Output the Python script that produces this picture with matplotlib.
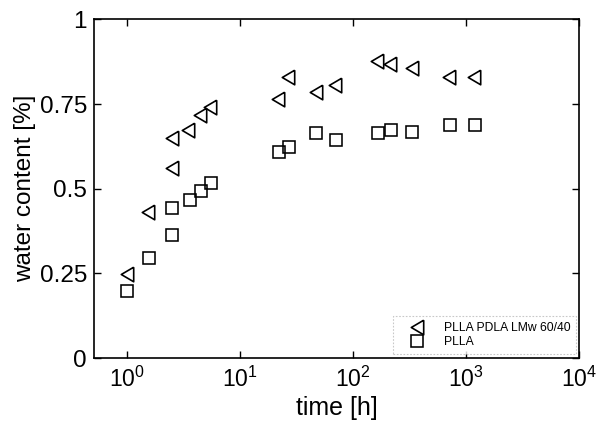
import matplotlib
matplotlib.use("Agg")
import matplotlib.pyplot as plt

plt.rcParams['font.family'] = ['Liberation Sans', 'DejaVu Sans']
plt.rcParams['mathtext.fontset'] = 'custom'
plt.rcParams['mathtext.rm'] = 'Liberation Sans'
plt.rcParams['mathtext.it'] = 'Liberation Sans'

t_blend = [1.0, 1.53, 2.47, 2.47, 3.47, 4.4, 5.4, 21.7, 26.6, 46.8, 68.9, 161, 211, 329, 708, 1178]
w_blend = [0.248, 0.432, 0.560, 0.651, 0.674, 0.718, 0.741, 0.764, 0.829, 0.786, 0.807, 0.878, 0.868, 0.856, 0.829, 0.829]

t_plla = [1.0, 1.57, 2.47, 2.47, 3.59, 4.47, 5.47, 22, 27.2, 46.8, 69.8, 166, 214, 333, 718, 1194]
w_plla = [0.199, 0.296, 0.363, 0.444, 0.467, 0.493, 0.516, 0.609, 0.624, 0.664, 0.644, 0.664, 0.675, 0.669, 0.688, 0.688]

labels = ['PLLA PDLA LMw 60/40', 'PLLA']
yticks = [0, 0.25, 0.5, 0.75, 1]
yticklabels = ['0', '0.25', '0.5', '0.75', '1']
xticks = [1, 10, 100, 1000, 10000]

tri = [(0.85, 1.0), (-0.85, 0.0), (0.85, -1.0), (0.85, 1.0)]

fig = plt.figure(figsize=(5.99, 4.30), dpi=100)
ax = fig.add_axes([0.157, 0.1674, 0.810, 0.7873])

ax.plot(t_blend, w_blend, linestyle='none', marker=tri, markersize=10.5,
        markerfacecolor='none', markeredgecolor='black', markeredgewidth=1.2, label=labels[0])
ax.plot(t_plla, w_plla, linestyle='none', marker='s', markersize=8.0,
        markerfacecolor='none', markeredgecolor='black', markeredgewidth=1.15, label=labels[1])

ax.set_xscale('log')
ax.set_xlim(0.507, 1e4)
ax.set_ylim(0, 1)
ax.set_yticks(yticks)
ax.set_yticklabels(yticklabels)
ax.set_xticks(xticks)
ax.minorticks_off()
ax.tick_params(axis='both', which='major', direction='in', top=True, right=True,
               length=5, width=1)
ax.tick_params(axis='y', labelsize=17.5, pad=5)
ax.tick_params(axis='x', labelsize=16.5, pad=6)
for s in ax.spines.values():
    s.set_linewidth(1.2)

ax.set_xlabel('time [h]', fontsize=18, labelpad=3)
ax.set_ylabel('water content [%]', fontsize=17.5, labelpad=3)

leg = ax.legend(loc='lower right', bbox_to_anchor=(0.994, 0.012), fontsize=8.7,
                frameon=True, fancybox=False, borderaxespad=0.0,
                handlelength=3.0, handletextpad=0.7, labelspacing=0.15,
                borderpad=0.5)
leg.get_frame().set_edgecolor('#bbbbbb')
leg.get_frame().set_linestyle((0, (1.5, 1.5)))
leg.get_frame().set_linewidth(0.8)

fig.savefig('out.png', dpi=100)
